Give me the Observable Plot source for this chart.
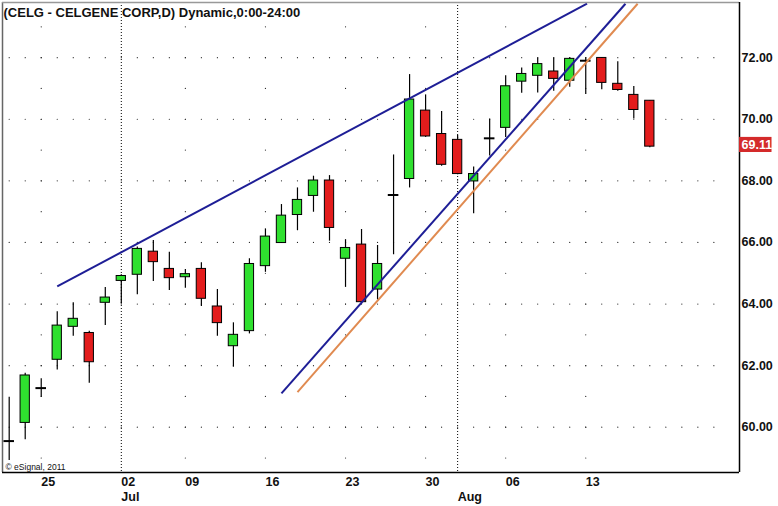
<!DOCTYPE html>
<html><head><meta charset="utf-8">
<script src="https://cdn.jsdelivr.net/npm/d3@7"></script>
<script src="https://cdn.jsdelivr.net/npm/@observablehq/plot@0.6"></script>
<style>html,body{margin:0;padding:0;background:#fff;} svg{display:block}</style>
</head><body><div id="chart"></div>
<script>
// ---- data ----
const dates = ["2012-06-21","2012-06-22","2012-06-25","2012-06-26","2012-06-27","2012-06-28","2012-06-29",
  "2012-07-02","2012-07-03","2012-07-05","2012-07-06","2012-07-09","2012-07-10","2012-07-11","2012-07-12","2012-07-13",
  "2012-07-16","2012-07-17","2012-07-18","2012-07-19","2012-07-20","2012-07-23","2012-07-24","2012-07-25","2012-07-26","2012-07-27",
  "2012-07-30","2012-07-31","2012-08-01","2012-08-02","2012-08-03","2012-08-06","2012-08-07","2012-08-08","2012-08-09","2012-08-10",
  "2012-08-13","2012-08-14","2012-08-15","2012-08-16","2012-08-17"];
const open  = [59.55,60.14,61.27,62.19,63.26,63.06,64.04, 64.75,64.95,65.70,65.14,64.87,65.14,63.92,62.63,63.12,
  65.23,65.98,66.89,67.51,68.01,65.47,65.93,64.47,67.54,68.06, 70.28,69.52,69.33,67.98,69.38,69.72,71.22,71.41,71.55,71.25,
  71.90,71.99,71.15,70.79,70.60];
const high  = [60.97,61.75,61.57,63.75,64.04,63.12,64.54, 64.95,65.85,66.06,65.68,65.12,65.34,64.47,63.39,65.47,
  66.44,67.23,67.77,68.15,68.17,66.09,66.42,65.90,68.84,71.45, 70.79,70.25,69.47,68.45,70.01,71.41,71.66,71.99,71.99,72.00,
  71.99,72.00,71.87,71.06,70.60];
const low   = [58.92,59.59,60.97,61.86,62.95,61.43,63.30, 64.00,64.30,64.73,64.44,64.51,63.92,62.95,61.95,63.03,
  65.03,65.98,66.38,66.98,66.04,64.54,64.00,64.13,65.60,67.77, 69.41,68.47,68.20,66.93,68.81,69.41,70.84,70.85,70.91,71.04,
  70.80,70.96,70.91,70.01,69.07];
const close = [59.55,61.68,61.27,63.30,63.52,62.11,64.21, 64.91,65.79,65.36,64.84,64.97,64.17,63.38,63.00,65.30,
  66.19,66.87,67.38,68.01,66.47,65.82,64.06,65.30,67.54,70.64, 69.44,68.52,68.22,68.22,69.38,71.07,71.47,71.79,71.31,71.96,
  71.90,71.18,70.95,70.30,69.11];

const yTicks = [60,62,64,66,68,70,72];
const weekTickIdx = [2,7,11,16,21,26,31,36];
const weekTickLabels = ["25","02","09","16","23","30","06","13"];
const monthIdx = [7,28];
const monthLabels = ["Jul","Aug"];

// trend lines: start/end in (trading-day index, price)
const trendNames = ["upper","lowerBlue","lowerOrange"];
const trendStartIdx = [3.0, 17.0, 18.0];
const trendStartPrice = [64.57, 61.10, 61.14];
const trendEndIdx = [36.08, 38.48, 39.24];
const trendEndPrice = [73.75, 73.75, 73.75];

const titleText = "(CELG - CELGENE CORP,D) Dynamic,0:00-24:00";
const creditText = "\u00a9 eSignal, 2011";

// ---- build tables ----
const data = dates.map((d, i) => ({date: d, i, open: open[i], high: high[i], low: low[i], close: close[i]}));
const bodies = data.filter(d => d.open !== d.close);
const dojis = data.filter(d => d.open === d.close);
const trends = trendNames.map((n, k) => ({name: n, x1: trendStartIdx[k], y1: trendStartPrice[k], x2: trendEndIdx[k], y2: trendEndPrice[k]}));
const trendColor = {upper: "#1e1e96", lowerBlue: "#1e1e96", lowerOrange: "#e08a50"};

const xDomain = [-0.418, 45.60];
const yDomain = [58.53, 73.79];

const hGrid = [];
for (const p of yTicks) for (let i = 0; i <= 44; i++) hGrid.push({i, p});
const vGrid = [];
for (const w of weekTickIdx.filter(w => !monthIdx.includes(w))) for (let p = 59; p <= 73; p++) vGrid.push({i: w, p});

const last = data[data.length - 1];
const GREEN = "#2fe02f", RED = "#e31c1c";

const chart = Plot.plot({
  width: 778, height: 506,
  marginLeft: 2, marginRight: 39, marginTop: 2, marginBottom: 34,
  x: {type: "linear", domain: xDomain, axis: null},
  y: {type: "linear", domain: yDomain, axis: null},
  style: {fontFamily: "'Liberation Sans', Arial, sans-serif", fontSize: "12.5px", fontWeight: "bold", color: "#111", background: "#fff"},
  marks: [
    Plot.dot(hGrid, {x: "i", y: "p", r: 0.6, fill: "#222", stroke: null}),
    Plot.dot(vGrid, {x: "i", y: "p", r: 0.6, fill: "#222", stroke: null}),
    Plot.ruleX(monthIdx, {x: d => d, stroke: "#000", strokeWidth: 1, strokeDasharray: "1,2"}),
    Plot.ruleX(data, {x: "i", y1: "low", y2: "high", stroke: "#000", strokeWidth: 1.2}),
    Plot.rect(bodies, {x1: d => d.i - 0.29, x2: d => d.i + 0.29, y1: "open", y2: "close",
      fill: d => d.close > d.open ? GREEN : RED, stroke: "#000", strokeWidth: 1}),
    Plot.ruleY(dojis, {y: "close", x1: d => d.i - 0.33, x2: d => d.i + 0.33, stroke: "#000", strokeWidth: 2}),
    Plot.link(trends, {x1: "x1", y1: "y1", x2: "x2", y2: "y2", stroke: d => trendColor[d.name], strokeWidth: 2}),
    // frame / axes lines
    Plot.ruleX([xDomain[0]], {stroke: "#666", strokeWidth: 1.5}),
    Plot.ruleY([yDomain[1]], {stroke: "#999", strokeWidth: 1.5}),
    Plot.ruleX([xDomain[1]], {stroke: "#000", strokeWidth: 1.5}),
    Plot.ruleY([yDomain[0]], {stroke: "#000", strokeWidth: 1.5}),
    Plot.axisY({ticks: yTicks, anchor: "right", tickSize: 0, tickPadding: 2, tickFormat: d => d.toFixed(2), label: null, fill: "#111"}),
    Plot.axisX({ticks: weekTickIdx, anchor: "bottom", tickSize: 0, tickPadding: 4.5, textAnchor: "start",
      tickFormat: d => weekTickLabels[weekTickIdx.indexOf(d)], label: null, fontSize: 12.5, fill: "#111"}),
    Plot.axisX({ticks: monthIdx, anchor: "bottom", tickSize: 0, tickPadding: 19.5, textAnchor: "start",
      tickFormat: d => monthLabels[monthIdx.indexOf(d)], label: null, fontSize: 12.5, fill: "#111"}),
    // last price tag
    Plot.rect([last], {x1: xDomain[1], x2: xDomain[1] + 2.03, y1: d => d.close - 0.19, y2: d => d.close + 0.30, fill: "#d42a2a"}),
    Plot.text([last], {x: xDomain[1], dx: 2, y: d => d.close + 0.05, text: d => d.close.toFixed(2), fill: "#fff", textAnchor: "start", fontSize: 12.5, fontWeight: "bold"}),
    // title and credit
    Plot.text([titleText], {frameAnchor: "top-left", text: d => d, dx: 1, dy: 4.8, lineAnchor: "top", textAnchor: "start", fontSize: 13, fontWeight: "bold", fill: "#111"}),
    Plot.text([creditText], {frameAnchor: "bottom-left", text: d => d, dx: 3, dy: -3, lineAnchor: "bottom", textAnchor: "start", fontSize: 8.5, fontWeight: "normal", fill: "#111"})
  ]
});
document.getElementById("chart").appendChild(chart);
</script>
</body></html>
